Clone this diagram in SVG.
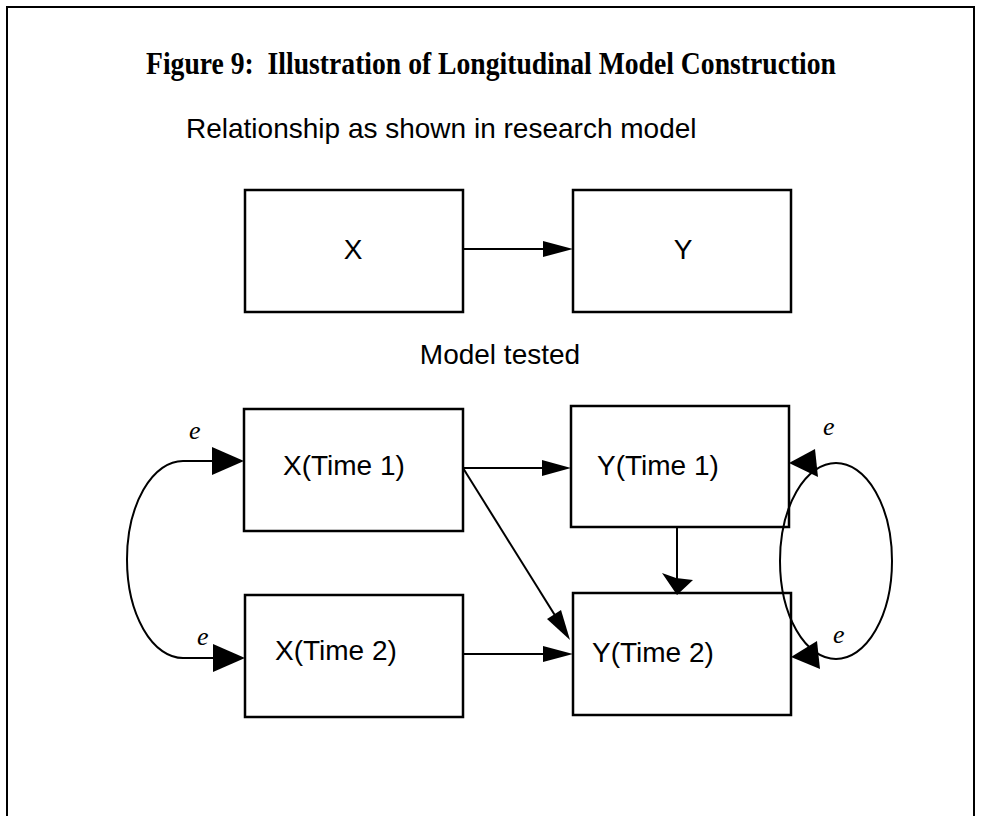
<svg xmlns="http://www.w3.org/2000/svg" width="981" height="816" viewBox="0 0 981 816">
<style>
.box{fill:#fff;stroke:#000;stroke-width:2.5}
.ln{fill:none;stroke:#000;stroke-width:2}
.ah{fill:#000;stroke:none}
.lbl{font-family:"Liberation Sans",Arial,sans-serif;font-size:28px;fill:#000}
.e{font-family:"Liberation Serif","Times New Roman",serif;font-style:italic;font-size:26px;fill:#000}
.title{font-family:"Liberation Serif","Times New Roman",serif;font-weight:bold;font-size:31px;fill:#000;white-space:pre}
</style>
<rect width="981" height="816" fill="#fff"/>
<path d="M7,816 V7 H974 V816" fill="none" stroke="#000" stroke-width="2"/>
<text class="title" x="146" y="74" textLength="690" lengthAdjust="spacingAndGlyphs" xml:space="preserve">Figure 9:  Illustration of Longitudinal Model Construction</text>
<text class="lbl" x="186" y="138">Relationship as shown in research model</text>
<text class="lbl" x="500" y="364" text-anchor="middle">Model tested</text>
<g id="X"><rect class="box" x="245" y="190" width="218" height="122"/><text class="lbl" x="353" y="259" text-anchor="middle">X</text></g>
<g id="Y"><rect class="box" x="573" y="190" width="218" height="122"/><text class="lbl" x="683" y="259" text-anchor="middle">Y</text></g>
<g id="X1"><rect class="box" x="244" y="409" width="219" height="122"/><text class="lbl" x="283" y="475">X(Time 1)</text></g>
<g id="Y1"><rect class="box" x="571" y="406" width="218" height="121"/><text class="lbl" x="597" y="475">Y(Time 1)</text></g>
<g id="X2"><rect class="box" x="245" y="595" width="218" height="122"/><text class="lbl" x="275" y="660">X(Time 2)</text></g>
<g id="Y2"><rect class="box" x="573" y="593" width="218" height="122"/><text class="lbl" x="592" y="662">Y(Time 2)</text></g>
<g id="connectors">
<line class="ln" x1="463" y1="249" x2="545" y2="249"/><polygon class="ah" points="573,249 543,241 543,257"/>
<line class="ln" x1="463" y1="468" x2="544" y2="468"/><polygon class="ah" points="571,468 542,460 542,476"/>
<line class="ln" x1="463" y1="654" x2="545" y2="654"/><polygon class="ah" points="573,654 543,646 543,662"/>
<line class="ln" x1="463" y1="468" x2="556" y2="617"/><polygon class="ah" points="570,640 547,619 561,610"/>
<line class="ln" x1="677" y1="527" x2="677" y2="593"/><polygon class="ah" points="677,595 662,573 676,578 693,580"/>
<path class="ln" d="M213,461 H183 A56,98.5 0 0 0 183,658 H215"/>
<polygon class="ah" points="244,461 212,447 212,475"/>
<polygon class="ah" points="245,658 213,644 213,672"/>
<ellipse class="ln" cx="836" cy="561" rx="56" ry="98"/>
<polygon class="ah" points="789,463 815,449 818,477"/>
<polygon class="ah" points="791,657 817,641 820,669"/>
<text class="e" x="189" y="439">e</text>
<text class="e" x="197" y="645">e</text>
<text class="e" x="823" y="435">e</text>
<text class="e" x="833" y="643">e</text>
</g>
</svg>
